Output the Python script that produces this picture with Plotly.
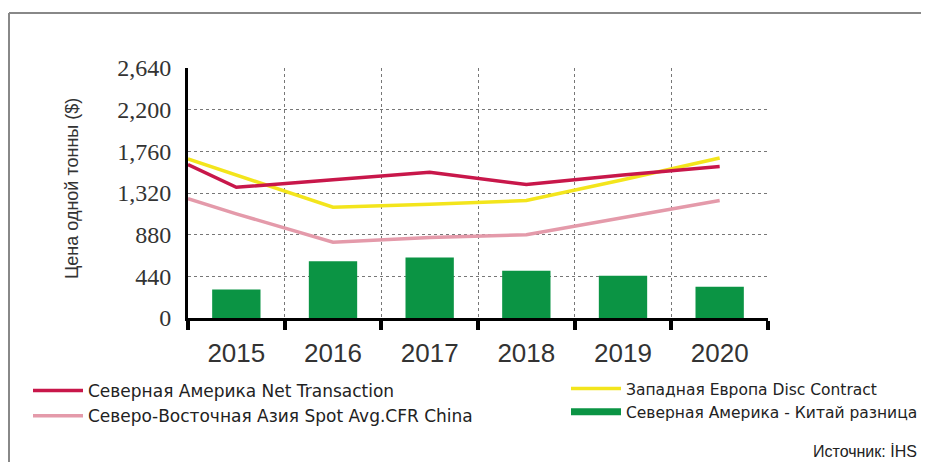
import plotly.graph_objects as go

# %%
years = [2015, 2016, 2017, 2018, 2019, 2020]
year_labels = ["2015", "2016", "2017", "2018", "2019", "2020"]

# price lines start at the left edge of the chart (half a year before 2015)
line_years = [2014.5, 2015, 2016, 2017, 2018, 2019, 2020]
na_net = [1620, 1380, 1460, 1540, 1410, 1510, 1600]
we_disc = [1680, 1510, 1170, 1200, 1240, 1460, 1690]
nea_spot = [1260, 1100, 800, 850, 880, 1060, 1240]

na_china_gap = [300, 600, 640, 500, 445, 330]

y_ticks = [0, 440, 880, 1320, 1760, 2200, 2640]
y_labels = ["0", "440", "880", "1,320", "1,760", "2,200", "2,640"]

names = {
    "na": "Северная Америка Net Transaction",
    "nea": "Северо-Восточная Азия Spot Avg.CFR China",
    "we": "Западная Европа Disc Contract",
    "gap": "Северная Америка - Китай разница",
}

RED = "#c8174a"
PINK = "#e49aaa"
YELLOW = "#f3e51c"
GREEN = "#0b9444"

# figure is 8px smaller than the window: the page body keeps its default margin
W, H = 921, 454
L, T, PW, PH = 180, 60, 580, 250

# %%
fig = go.Figure()

fig.add_trace(
    go.Bar(
        x=years,
        y=na_china_gap,
        width=0.5,
        marker=dict(color=GREEN, line=dict(width=0)),
        showlegend=False,
    )
)
fig.add_trace(
    go.Scatter(
        x=line_years, y=nea_spot, mode="lines", name=names["nea"],
        line=dict(color=PINK, width=3.5), legend="legend", legendrank=2,
    )
)
fig.add_trace(
    go.Scatter(
        x=line_years, y=we_disc, mode="lines", name=names["we"],
        line=dict(color=YELLOW, width=3.5), legend="legend2", legendrank=1,
    )
)
fig.add_trace(
    go.Scatter(
        x=line_years, y=na_net, mode="lines", name=names["na"],
        line=dict(color=RED, width=3.5), legend="legend", legendrank=1,
    )
)
# legend entry for the bars, drawn as a thick stripe like the original
fig.add_trace(
    go.Scatter(
        x=[years[0]], y=[None], mode="lines", name=names["gap"],
        line=dict(color=GREEN, width=7), legend="legend2", legendrank=2,
    )
)

boundaries = [y - 0.5 for y in years] + [years[-1] + 0.5]

fig.update_xaxes(
    range=[boundaries[0], boundaries[-1]],
    tickvals=years,
    ticktext=year_labels,
    tickangle=0,
    ticks="",
    showgrid=False,
    zeroline=False,
    showline=True,
    linecolor="black",
    linewidth=3,
    ticklabelstandoff=10,
    tickfont=dict(family="Liberation Sans, Arial, sans-serif", size=26, color="#333"),
    minor=dict(
        tickvals=boundaries,
        ticks="outside",
        ticklen=9,
        tickwidth=4,
        tickcolor="black",
        showgrid=True,
        gridcolor="#777",
        gridwidth=1,
        griddash="dot",
    ),
)
fig.update_yaxes(
    range=[0, 2640],
    tickvals=y_ticks,
    ticktext=y_labels,
    ticks="",
    showgrid=True,
    gridcolor="#777",
    gridwidth=1,
    griddash="dot",
    zeroline=False,
    showline=True,
    linecolor="black",
    linewidth=3,
    ticklabelstandoff=9,
    tickfont=dict(family="Liberation Serif, Times New Roman, serif", size=24, color="#333"),
)

legend_style = dict(
    xref="container", yref="container", yanchor="top", xanchor="left",
    bgcolor="rgba(0,0,0,0)", itemwidth=50, tracegroupgap=0,
)

# outer frame: only its top and left edges are inside the picture
frame_top = (T + PH - 5) / PH
frame_left = (1 - L) / PW
frame_line = dict(color="#888", width=2)

fig.update_layout(
    width=W,
    height=H,
    margin=dict(l=L, r=W - L - PW, t=T, b=H - T - PH, autoexpand=False),
    plot_bgcolor="white",
    paper_bgcolor="white",
    legend=dict(
        legend_style, x=20 / W, y=(H - 365) / H,
        font=dict(family="DejaVu Sans, sans-serif", size=17, color="#222"),
    ),
    legend2=dict(
        legend_style, x=558 / W, y=(H - 364) / H,
        font=dict(family="DejaVu Sans, sans-serif", size=15.5, color="#222"),
    ),
    shapes=[
        dict(type="line", xref="paper", yref="paper", x0=frame_left, x1=(W - L) / PW,
             y0=frame_top, y1=frame_top, line=frame_line, layer="below"),
        dict(type="line", xref="paper", yref="paper", x0=frame_left, x1=frame_left,
             y0=frame_top, y1=-T / PH - 1, line=frame_line, layer="below"),
    ],
    annotations=[
        dict(
            text="Цена одной тонны ($)", xref="paper", yref="paper",
            x=(64 - L) / PW, y=(T + PH - 181) / PH, textangle=-90,
            xanchor="center", yanchor="middle", showarrow=False,
            font=dict(family="Liberation Sans, Arial, sans-serif", size=18, color="#333"),
        ),
        dict(
            text="Источник: İHS", xref="paper", yref="paper",
            x=(911 - L) / PW, y=(T + PH - 443) / PH,
            xanchor="right", yanchor="middle", showarrow=False,
            font=dict(family="Liberation Sans, Arial, sans-serif", size=16, color="#222"),
        ),
    ],
)

fig.write_html("out.html")
